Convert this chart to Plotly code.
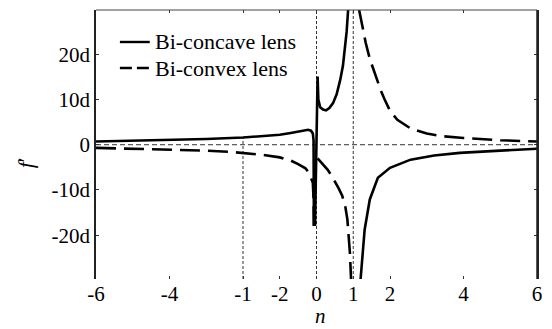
import plotly.graph_objects as go

# ---- data ----
# Bi-concave lens (solid), three branches
concave_left_n = [-6, -5, -4, -3, -2, -1.5, -1, -0.7, -0.5, -0.35, -0.23, -0.15, -0.1, -0.08, -0.07]
concave_left_f = [0.7, 0.85, 1.0, 1.25, 1.6, 1.85, 2.2, 2.6, 2.9, 3.15, 3.3, 3.1, 2.5, 1.0, -18]
concave_mid_n = [-0.04, -0.01, 0.02, 0.03, 0.05, 0.1, 0.18, 0.26, 0.35, 0.45, 0.55, 0.65, 0.72, 0.78, 0.82, 0.86]
concave_mid_f = [-18, -2, 12, 15.1, 10, 8.3, 7.8, 7.6, 8.1, 9.2, 11.2, 14.5, 17.5, 21.5, 25, 29.8]
concave_right_n = [1.2, 1.25, 1.31, 1.45, 1.67, 2.0, 2.56, 3.2, 3.9, 5.0, 6.0]
concave_right_f = [-29.7, -24, -18.8, -12.1, -7.3, -5.1, -3.3, -2.4, -1.8, -1.3, -0.9]

# Bi-convex lens (dashed), three branches
convex_left_n = [-6, -5, -4, -3, -2.4, -2, -1.5, -1, -0.7, -0.5, -0.3, -0.2, -0.12, -0.1, -0.08, -0.07]
convex_left_f = [-0.7, -0.85, -1.05, -1.3, -1.55, -1.8, -2.2, -2.8, -3.5, -4.3, -5.2, -6.3, -7.8, -8.4, -12, -18]
convex_mid_n = [0.03, 0.1, 0.2, 0.3, 0.4, 0.5, 0.6, 0.7, 0.78, 0.84, 0.88, 0.91, 0.94]
convex_mid_f = [-3.0, -3.6, -4.5, -5.5, -6.7, -8.0, -9.6, -11.3, -13.5, -16.5, -20, -24, -29.7]
convex_right_n = [1.16, 1.26, 1.34, 1.45, 1.53, 1.61, 1.75, 1.86, 2.0, 2.2, 2.56, 3.0, 3.4, 4.0, 4.4, 5.0, 6.0]
convex_right_f = [29.8, 25.4, 22.5, 19.0, 17.2, 15.0, 12.0, 9.9, 7.5, 5.5, 3.6, 2.5, 1.9, 1.5, 1.25, 1.0, 0.7]

# reference guide lines
guide_n = [-2, 0, 1]
guide_top = [1.6, 29.8, 29.8]

# axis ticks
x_tickvals = [-6, -4, -2, -1, 0, 1, 2, 4, 6]
x_ticktext = ["-6", "-4", "-1", "-2", "0", "1", "2", "4", "6"]
y_tickvals = [-20, -10, 0, 10, 20]
y_ticktext = ["-20d", "-10d", "0", "10d", "20d"]

series_names = ["Bi-concave lens", "Bi-convex lens"]

Y_MIN, Y_MAX = -29.7, 29.8

# plot-area geometry (pixels)
W, H = 552, 329
L, R, T, B = 96, 13, 10, 50
PW, PH = W - L - R, H - T - B


def px(xp):
    return (xp - L) / PW


def py(yp):
    return 1 - (yp - T) / PH


def join(*branches):
    xs, ys = [], []
    for bx, by in branches:
        if xs:
            xs.append(None)
            ys.append(None)
        xs += bx
        ys += by
    return xs, ys


FONT = "Liberation Serif"
DASH = "20px,8px"

fig = go.Figure()

cx, cy = join((concave_left_n, concave_left_f), (concave_mid_n, concave_mid_f),
              (concave_right_n, concave_right_f))
vx, vy = join((convex_left_n, convex_left_f), (convex_mid_n, convex_mid_f),
              (convex_right_n, convex_right_f))

fig.add_trace(go.Scatter(x=cx, y=cy, mode="lines", name=series_names[0],
                         line=dict(color="black", width=2.6), connectgaps=False,
                         showlegend=False))
fig.add_trace(go.Scatter(x=vx, y=vy, mode="lines", name=series_names[1],
                         line=dict(color="black", width=2.6, dash=DASH),
                         connectgaps=False, showlegend=False))

# zero line
fig.add_shape(type="line", xref="x", yref="y", x0=-6, x1=6, y0=0, y1=0,
              line=dict(color="#333", width=1, dash="5px,3px"), layer="below")
# vertical dotted guides
for gx, gt in zip(guide_n, guide_top):
    fig.add_shape(type="line", xref="x", yref="y", x0=gx, x1=gx, y0=Y_MIN, y1=gt,
                  line=dict(color="#333", width=1, dash="3px,2px"), layer="below")
# top and right frame
fig.add_shape(type="line", xref="paper", yref="paper", x0=0, x1=1, y0=1, y1=1,
              line=dict(color="#444", width=1))
fig.add_shape(type="line", xref="paper", yref="paper", x0=1, x1=1, y0=0, y1=1,
              line=dict(color="#222", width=1.5))

# manual legend
leg_rows = [42, 68]
leg_dash = ["solid", "12px,5px"]
for name, row, dsh in zip(series_names, leg_rows, leg_dash):
    fig.add_shape(type="line", xref="paper", yref="paper",
                  x0=px(120), x1=px(150), y0=py(row), y1=py(row),
                  line=dict(color="black", width=2.4, dash=dsh))
    fig.add_annotation(text=name, xref="paper", yref="paper", x=px(153), y=py(row),
                       xanchor="left", yanchor="middle", showarrow=False,
                       font=dict(family=FONT, size=22, color="black"))

fig.update_layout(
    width=W, height=H,
    margin=dict(l=L, r=R, t=T, b=B),
    paper_bgcolor="white", plot_bgcolor="white",
    font=dict(family=FONT, size=21, color="black"),
    showlegend=False,
    xaxis=dict(range=[-6, 6], tickvals=x_tickvals, ticktext=x_ticktext,
               ticks="inside", ticklen=3, tickcolor="#333", mirror="ticks",
               showline=False, showgrid=False, zeroline=False,
               ticklabelstandoff=0,
               tickfont=dict(family=FONT, size=21)),
    yaxis=dict(range=[Y_MIN, Y_MAX], tickvals=y_tickvals, ticktext=y_ticktext,
               ticks="inside", ticklen=3, tickcolor="#333", mirror="ticks",
               showline=True, linecolor="#222", linewidth=1.5,
               showgrid=False, zeroline=False,
               tickfont=dict(family=FONT, size=21)),
)

fig.add_annotation(text="<i>n</i>", xref="paper", yref="paper",
                   x=px(322), y=py(316), xanchor="center", yanchor="middle",
                   showarrow=False, font=dict(family=FONT, size=21))
fig.add_annotation(text="<i>f</i>′", xref="paper", yref="paper",
                   x=px(25), y=py(163), xanchor="center", yanchor="middle",
                   showarrow=False, textangle=-90, font=dict(family=FONT, size=22))

fig.write_html("out.html", config={"displayModeBar": False},
               post_script="document.body.style.margin='0';")
